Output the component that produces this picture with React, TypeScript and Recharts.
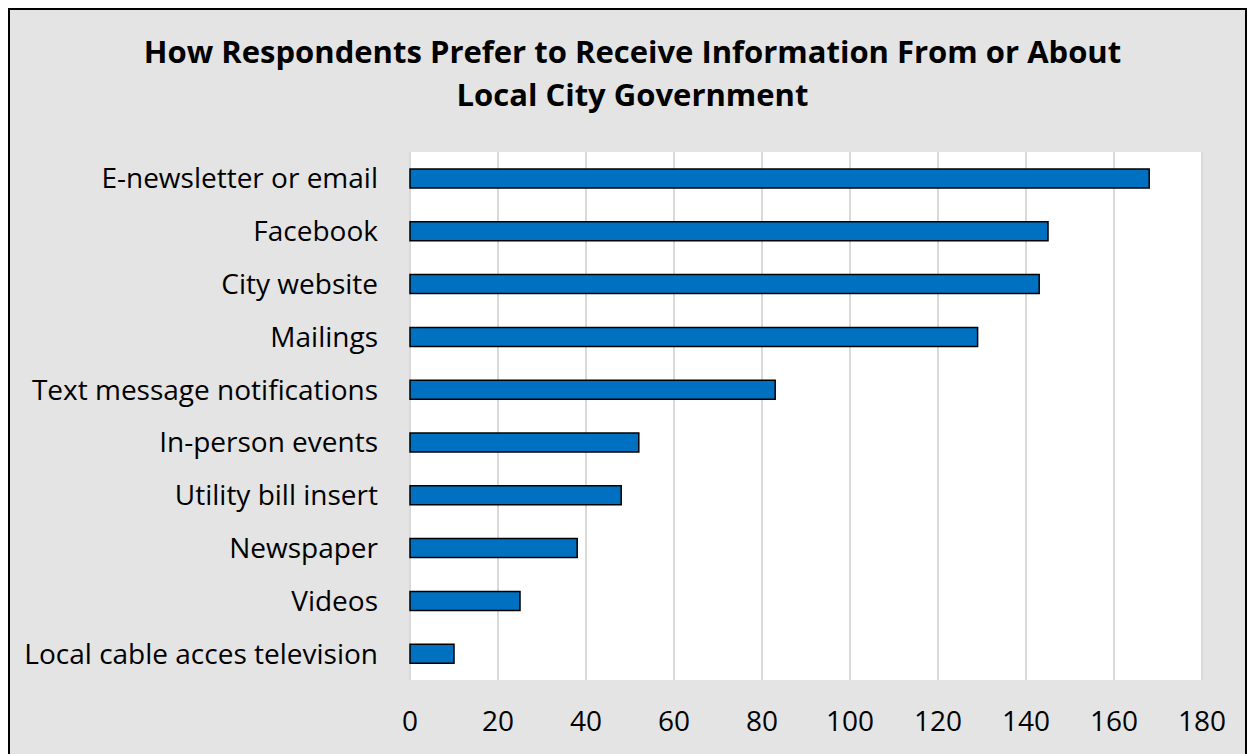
import { BarChart, Bar, XAxis, YAxis, CartesianGrid } from "recharts";

const channels = [
  "E-newsletter or email",
  "Facebook",
  "City website",
  "Mailings",
  "Text message notifications",
  "In-person events",
  "Utility bill insert",
  "Newspaper",
  "Videos",
  "Local cable acces television",
];
const respondents = [168, 145, 143, 129, 83, 52, 48, 38, 25, 10];
const xTicks = [0, 20, 40, 60, 80, 100, 120, 140, 160, 180];

const data = channels.map((name, i) => ({ name, value: respondents[i] }));

const font = "'Open Sans', sans-serif";

export default function App() {
  return (
    <div
      style={{
        position: "relative",
        width: 1235,
        height: 750,
        border: "2px solid #000",
        background: "#e4e4e4",
        fontFamily: font,
      }}
    >
      <style>{`html, body { overflow: hidden; }`}</style>
      <div
        style={{
          position: "absolute",
          top: 20,
          left: 5,
          width: 1235,
          textAlign: "center",
          fontSize: 31,
          fontWeight: 700,
          lineHeight: "43px",
          color: "#000",
          whiteSpace: "nowrap",
        }}
      >
        How Respondents Prefer to Receive Information From or About
        <br />
        Local City Government
      </div>
      <div style={{ position: "absolute", top: 0, left: 0 }}>
        <BarChart
          width={1235}
          height={740}
          data={data}
          layout="vertical"
          margin={{ top: 142, right: 43, left: 0, bottom: 30 }}
          barSize={19}
        >
          <CartesianGrid
            horizontal={false}
            stroke="#d9d9d9"
            strokeWidth={2}
            fill="#ffffff"
          />
          <XAxis
            type="number"
            domain={[0, 180]}
            ticks={xTicks}
            axisLine={false}
            tickLine={false}
            tickSize={0}
            tickMargin={31}
            height={40}
            tick={{ fill: "#000", fontSize: 28, fontFamily: font }}
          />
          <YAxis
            type="category"
            dataKey="name"
            width={400}
            axisLine={false}
            tickLine={false}
            tickSize={0}
            tickMargin={32}
            interval={0}
            tick={{ fill: "#000", fontSize: 28, fontFamily: font }}
          />
          <Bar
            dataKey="value"
            fill="#0070c0"
            stroke="#000"
            strokeWidth={1.5}
            isAnimationActive={false}
          />
        </BarChart>
      </div>
    </div>
  );
}
